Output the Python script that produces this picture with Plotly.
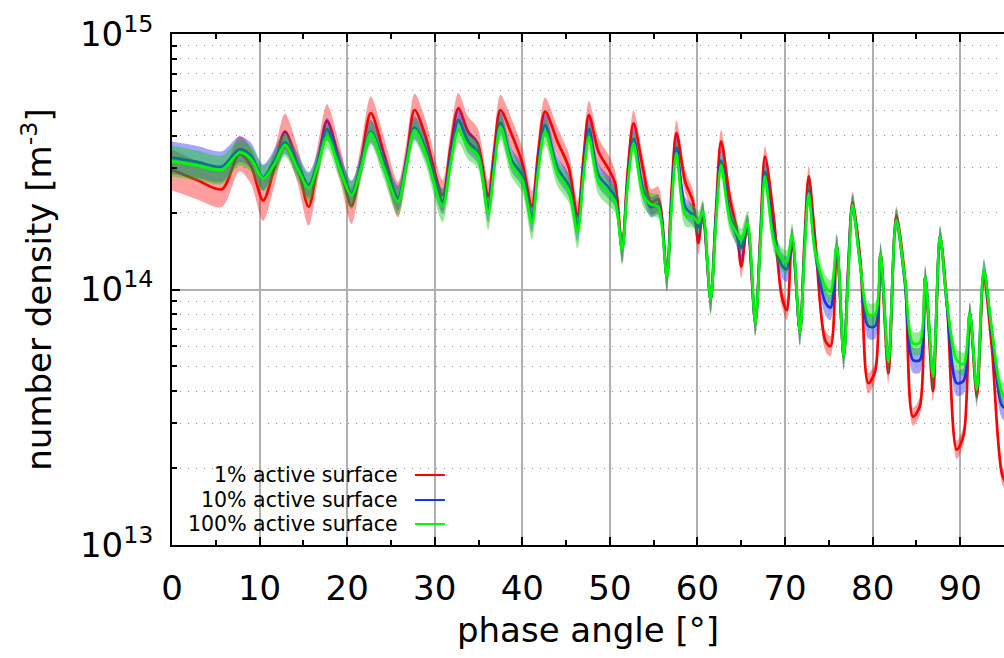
import plotly.graph_objects as go

# phase angle [deg]
phase = [0, 2.85, 5.7, 7.7, 9.0, 10.4, 11.7, 12.9, 14.3, 15.6, 16.7,
         17.7, 19.1, 20.5, 21.6, 22.7, 24.2, 25.8, 26.8, 27.7, 28.9,
         30.9, 31.8, 32.7, 33.8, 34.9, 36.1, 36.8, 37.5, 38.8, 40.0,
         41.1, 41.8, 42.6, 44.0, 45.3, 46.3, 47.0, 47.6, 48.7, 49.9,
         50.6, 51.4, 52.0, 52.7, 53.8, 54.7, 55.5, 56.5, 57.0, 57.6,
         58.6, 59.5, 60.1, 60.6, 61.5, 62.1, 62.7, 63.7, 64.5, 65.0,
         65.7, 66.6, 67.2, 67.7, 68.7, 69.6, 70.2, 70.8, 71.7, 72.2,
         72.7, 73.4, 74.6, 75.2, 75.9, 76.7, 77.2, 77.7, 78.6, 79.5,
         80.3, 80.9, 81.8, 82.7, 83.7, 84.6, 85.4, 86.0, 86.9, 87.7,
         88.5, 89.6, 90.4, 91.1, 91.9, 92.7, 93.6, 94.8, 95.5]

# number density in units of 1e14 m^-3
dens_1 = [2.94, 2.68, 2.47, 3.40, 3.05, 2.23, 3.00, 4.15, 3.10, 2.11, 3.20,
          4.57, 3.20, 2.12, 3.20, 4.90, 3.40, 2.25, 3.30, 5.04, 4.03,
          2.34, 3.60, 5.12, 4.15, 3.73, 2.31, 3.50, 5.04, 4.03, 3.12,
          2.11, 3.40, 4.97, 3.80, 3.00, 1.93, 3.30, 4.82, 3.46, 2.94,
          2.60, 1.45, 2.80, 4.47, 2.94, 2.20, 2.25, 1.12, 2.30, 4.09,
          2.64, 2.20, 1.52, 2.00, 0.91, 2.00, 3.80, 2.27, 1.70, 1.23,
          1.80, 0.74, 1.70, 3.31, 1.93, 0.95, 0.83, 1.60, 0.68, 1.50,
          2.77, 1.63, 0.63, 0.60, 1.49, 0.546, 1.20, 2.20, 1.30, 0.43,
          0.48, 1.38, 0.47, 1.95, 1.10, 0.318, 0.35, 1.12, 0.40, 1.61,
          0.88, 0.236, 0.27, 0.81, 0.38, 1.10, 0.60, 0.188, 0.17]

dens_10 = [3.28, 3.16, 3.03, 3.54, 3.35, 2.75, 3.20, 3.77, 3.10, 2.57, 3.20,
           4.24, 3.15, 2.38, 3.10, 4.15, 3.15, 2.28, 3.20, 4.30, 3.60,
           2.21, 3.30, 4.60, 3.80, 3.45, 2.08, 3.20, 4.50, 3.20, 2.80,
           1.90, 3.10, 4.40, 3.00, 2.55, 1.75, 3.00, 4.25, 2.80, 2.50,
           2.30, 1.43, 2.60, 3.90, 2.45, 2.10, 2.15, 1.12, 2.10, 3.60,
           2.10, 1.95, 1.75, 1.98, 0.91, 1.90, 3.20, 1.95, 1.62, 1.45,
           1.78, 0.74, 1.60, 2.90, 1.65, 1.25, 1.20, 1.60, 0.68, 1.40,
           2.45, 1.45, 0.89, 0.85, 1.49, 0.546, 1.15, 2.14, 1.25, 0.72,
           0.72, 1.38, 0.52, 1.87, 1.05, 0.53, 0.53, 1.12, 0.456, 1.61,
           0.85, 0.43, 0.44, 0.81, 0.405, 1.19, 0.68, 0.35, 0.34]

dens_100 = [3.18, 3.06, 2.94, 3.43, 3.25, 2.72, 3.10, 3.68, 3.00, 2.49, 3.10,
            3.96, 3.00, 2.34, 3.00, 4.09, 3.00, 2.21, 3.10, 4.21, 3.46,
            2.11, 3.10, 4.21, 3.62, 3.36, 1.99, 3.00, 4.34, 3.07, 2.68,
            1.82, 2.90, 4.15, 2.85, 2.45, 1.68, 2.80, 3.96, 2.64, 2.38,
            2.21, 1.43, 2.50, 3.73, 2.34, 2.15, 2.11, 1.12, 2.00, 3.41,
            1.96, 1.93, 1.82, 2.02, 0.91, 1.80, 3.07, 1.87, 1.66, 1.56,
            1.82, 0.74, 1.55, 2.77, 1.56, 1.32, 1.28, 1.63, 0.68, 1.35,
            2.38, 1.43, 1.03, 0.98, 1.49, 0.546, 1.10, 2.14, 1.23, 0.80,
            0.80, 1.38, 0.52, 1.87, 1.09, 0.615, 0.62, 1.12, 0.456, 1.61,
            0.88, 0.53, 0.51, 0.81, 0.405, 1.19, 0.70, 0.393, 0.38]

# uncertainty half-width of the shaded bands, in decades (log10)
err_1 = [0.08, 0.075, 0.07, 0.07, 0.07, 0.08, 0.07, 0.07, 0.07, 0.075, 0.07,
         0.065, 0.065, 0.07, 0.065, 0.065, 0.065, 0.07, 0.065, 0.065, 0.065,
         0.06, 0.06, 0.06, 0.06, 0.06, 0.065, 0.06, 0.06, 0.06, 0.06,
         0.06, 0.055, 0.055, 0.055, 0.055, 0.06, 0.055, 0.055, 0.055, 0.055,
         0.05, 0.055, 0.05, 0.05, 0.05, 0.05, 0.05, 0.055, 0.05, 0.05,
         0.045, 0.045, 0.045, 0.045, 0.05, 0.045, 0.045, 0.045, 0.045, 0.045,
         0.04, 0.045, 0.04, 0.04, 0.04, 0.04, 0.04, 0.04, 0.045, 0.04,
         0.04, 0.04, 0.04, 0.04, 0.04, 0.045, 0.04, 0.04, 0.04, 0.04,
         0.035, 0.035, 0.04, 0.035, 0.035, 0.035, 0.035, 0.035, 0.04, 0.035,
         0.035, 0.035, 0.035, 0.035, 0.04, 0.035, 0.035, 0.035, 0.035]

err_10 = [0.063, 0.062, 0.06, 0.05, 0.05, 0.05, 0.045, 0.045, 0.045, 0.05, 0.045,
          0.045, 0.045, 0.05, 0.045, 0.045, 0.045, 0.05, 0.045, 0.045, 0.045,
          0.05, 0.045, 0.045, 0.045, 0.045, 0.055, 0.045, 0.045, 0.045, 0.045,
          0.055, 0.045, 0.045, 0.045, 0.045, 0.055, 0.045, 0.045, 0.045, 0.045,
          0.04, 0.05, 0.04, 0.04, 0.04, 0.04, 0.04, 0.05, 0.04, 0.04,
          0.04, 0.04, 0.04, 0.04, 0.05, 0.04, 0.04, 0.04, 0.045, 0.05,
          0.04, 0.05, 0.04, 0.04, 0.04, 0.05, 0.05, 0.04, 0.05, 0.04,
          0.04, 0.04, 0.05, 0.05, 0.04, 0.05, 0.04, 0.04, 0.04, 0.05,
          0.05, 0.04, 0.05, 0.04, 0.04, 0.05, 0.05, 0.04, 0.05, 0.04,
          0.04, 0.05, 0.05, 0.04, 0.05, 0.04, 0.04, 0.05, 0.05]

err_100 = [0.06, 0.058, 0.055, 0.05, 0.05, 0.05, 0.045, 0.045, 0.045, 0.055, 0.045,
           0.045, 0.045, 0.055, 0.045, 0.045, 0.045, 0.055, 0.045, 0.045, 0.045,
           0.06, 0.05, 0.05, 0.05, 0.05, 0.065, 0.05, 0.05, 0.05, 0.05,
           0.065, 0.05, 0.05, 0.05, 0.05, 0.065, 0.05, 0.05, 0.05, 0.05,
           0.045, 0.06, 0.045, 0.045, 0.045, 0.045, 0.045, 0.06, 0.045, 0.045,
           0.045, 0.045, 0.045, 0.045, 0.06, 0.045, 0.045, 0.045, 0.045, 0.045,
           0.045, 0.055, 0.045, 0.045, 0.045, 0.045, 0.045, 0.045, 0.055, 0.045,
           0.045, 0.045, 0.045, 0.045, 0.045, 0.055, 0.045, 0.045, 0.045, 0.045,
           0.045, 0.045, 0.05, 0.045, 0.045, 0.045, 0.045, 0.045, 0.05, 0.045,
           0.045, 0.045, 0.045, 0.045, 0.05, 0.045, 0.045, 0.045, 0.045]

series_names = ["1% active surface", "10% active surface", "100% active surface"]
line_colors = ["#ff0000", "#1434e6", "#00f800"]
band_colors = ["rgba(255,0,0,0.38)", "rgba(40,40,255,0.42)", "rgba(0,210,0,0.42)"]

y_tickvals = [1e13, 1e14, 1e15]
y_ticktext = ["10<sup>13</sup>", "10<sup>14</sup>", "10<sup>15</sup>"]
y_minorvals = [m * 10 ** d for d in (13, 14) for m in range(2, 10)]

assert len(phase) == len(dens_1) == len(dens_10) == len(dens_100) == len(err_1) == len(err_10) == len(err_100)

FONT = "DejaVu Sans"
SMOOTH = 0.85
fig = go.Figure()

for name, dens, err, lc, bc in zip(series_names, [dens_1, dens_10, dens_100],
                                   [err_1, err_10, err_100], line_colors, band_colors):
    vals = [v * 1e14 for v in dens]
    lower = [v * 10 ** (-e) for v, e in zip(vals, err)]
    upper = [v * 10 ** (e) for v, e in zip(vals, err)]
    fig.add_trace(go.Scatter(x=phase, y=lower, mode="lines",
                             line=dict(width=0, shape="spline", smoothing=SMOOTH),
                             hoverinfo="skip", showlegend=False))
    fig.add_trace(go.Scatter(x=phase, y=upper, mode="lines", fill="tonexty",
                             fillcolor=bc, line=dict(width=0, shape="spline", smoothing=SMOOTH),
                             hoverinfo="skip", showlegend=False))
    fig.add_trace(go.Scatter(x=phase, y=vals, mode="lines", name=name,
                             line=dict(color=lc, width=2.7, shape="spline", smoothing=SMOOTH)))

# legend (gnuplot style: text right-aligned, sample to the right)
leg_y = [0.137, 0.088, 0.041]
for name, lc, yy in zip(series_names, line_colors, leg_y):
    fig.add_annotation(x=0.274, y=yy, xref="paper", yref="paper", text=name,
                       showarrow=False, xanchor="right", yanchor="middle",
                       font=dict(family=FONT, size=20.5, color="black"))
    fig.add_shape(type="line", xref="paper", yref="paper", x0=0.292, x1=0.328,
                  y0=yy, y1=yy, line=dict(color=lc, width=2))

fig.update_layout(
    width=1004, height=658,
    margin=dict(l=172, r=0, t=34, b=113),
    plot_bgcolor="white", paper_bgcolor="white",
    showlegend=False,
    font=dict(family=FONT, color="black"),
)

fig.update_xaxes(
    range=[0, 95], tick0=0, dtick=10,
    ticks="inside", ticklen=8, tickwidth=1.5, tickcolor="black",
    showline=True, linecolor="black", linewidth=1.5, mirror="ticks",
    showgrid=True, gridcolor="#b0b0b0", gridwidth=1.5, zeroline=False,
    tickfont=dict(family=FONT, size=34), ticklabelstandoff=12,
    minor=dict(tick0=0, dtick=5, ticks="inside", ticklen=5, tickcolor="black", showgrid=False),
    title=dict(text="phase angle [°]", font=dict(family=FONT, size=34), standoff=12),
    automargin=False,
)

fig.update_yaxes(
    type="log", range=[13, 15],
    tickvals=y_tickvals, ticktext=y_ticktext,
    ticks="inside", ticklen=8, tickwidth=1.5, tickcolor="black",
    showline=True, linecolor="black", linewidth=1.5, mirror=False,
    showgrid=True, gridcolor="#b0b0b0", gridwidth=1.5, zeroline=False,
    tickfont=dict(family=FONT, size=34), ticklabelstandoff=10,
    minor=dict(tickvals=y_minorvals, ticks="inside", ticklen=5, tickcolor="black",
               showgrid=True, gridcolor="#999999", gridwidth=1, griddash="1px,7px"),
    title=dict(text="number density [m<sup>-3</sup>]", font=dict(family=FONT, size=34), standoff=18),
    automargin=False,
)

fig.write_html("out.html", config={"displayModeBar": False},
               post_script="document.body.style.margin='0';document.body.style.overflow='hidden';")
